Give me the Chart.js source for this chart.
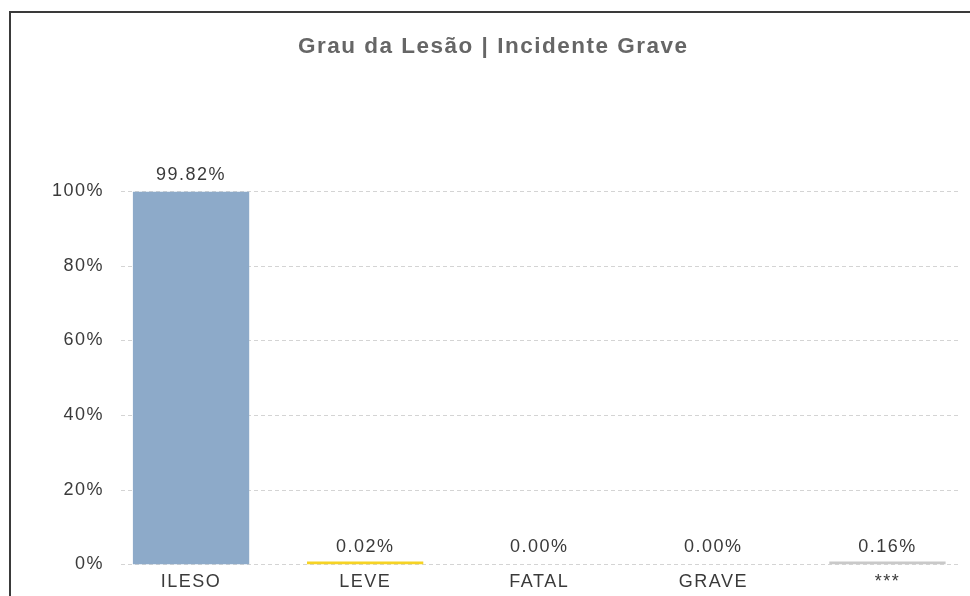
<!DOCTYPE html>
<html>
<head>
<meta charset="utf-8">
<script src="https://cdn.jsdelivr.net/npm/chart.js@4"></script>
<style>
    html, body { margin: 0; padding: 0; background: #fff; overflow: hidden; }
    #frame {
        position: absolute; left: 9px; top: 11px; width: 2000px; height: 2000px;
        border-top: 2px solid #3a3a3a; border-left: 2px solid #3a3a3a;
    }
    #wrap { position: absolute; left: 0; top: 0; width: 990px; height: 596px; }
</style>
</head>
<body>
<div id="frame"></div>
<div id="wrap"><canvas id="chart"></canvas></div>
<script>
const categories = ["ILESO", "LEVE", "FATAL", "GRAVE", "***"];
const values = [99.82, 0.02, 0.00, 0.00, 0.16];
const barColors = ["#8DAAC9", "#F6D324", "rgba(0,0,0,0)", "rgba(0,0,0,0)", "#C9C9C9"];
const yTicks = [0, 20, 40, 60, 80, 100];

const FONT = "'Liberation Sans', Arial, sans-serif";

// spacing between letters, the reference text is spread out
const spacingPlugin = {
    id: 'spacing',
    beforeUpdate(chart) { chart.ctx.letterSpacing = '1.5px'; },
    beforeDraw(chart) { chart.ctx.letterSpacing = '1.5px'; }
};

// dashed grid lines, shorter than the chart area
const gridPlugin = {
    id: 'dashGrid',
    beforeDatasetsDraw(chart) {
        const ctx = chart.ctx;
        const y = chart.scales.y;
        ctx.save();
        ctx.strokeStyle = '#d4d4d4';
        ctx.lineWidth = 1;
        ctx.setLineDash([4, 3]);
        yTicks.forEach(t => {
            const py = Math.round(y.getPixelForValue(t)) + 0.5;
            ctx.beginPath();
            ctx.moveTo(121, py);
            ctx.lineTo(960, py);
            ctx.stroke();
        });
        ctx.restore();
    }
};

// value labels over the bars
const labelPlugin = {
    id: 'valueLabels',
    afterDatasetsDraw(chart) {
        const ctx = chart.ctx;
        const meta = chart.getDatasetMeta(0);
        const y = chart.scales.y;
        ctx.save();
        ctx.font = '18px ' + FONT;
        ctx.fillStyle = '#3a3a3a';
        ctx.textAlign = 'center';
        ctx.textBaseline = 'middle';
        meta.data.forEach((bar, i) => {
            ctx.fillText(values[i].toFixed(2) + '%', bar.x, y.getPixelForValue(values[i]) - 17);
        });
        ctx.restore();
    }
};

new Chart(document.getElementById('chart').getContext('2d'), {
    type: 'bar',
    data: {
        labels: categories,
        datasets: [{
            data: values,
            backgroundColor: barColors,
            borderWidth: 0,
            minBarLength: 3,
            barPercentage: 0.668,
            categoryPercentage: 1
        }]
    },
    options: {
        responsive: true,
        maintainAspectRatio: false,
        animation: false,
        layout: { padding: { left: 12, right: 15.5, top: 0, bottom: -4 } },
        plugins: {
            legend: { display: false },
            tooltip: { enabled: false },
            title: {
                display: true,
                text: 'Grau da Lesão | Incidente Grave',
                color: '#666',
                font: { family: FONT, size: 22.5, weight: 'bold' },
                padding: { top: 33, bottom: 131 }
            }
        },
        scales: {
            x: {
                grid: { display: false, drawTicks: false },
                border: { display: false },
                ticks: { color: '#3a3a3a', padding: 7, font: { family: FONT, size: 18 } }
            },
            y: {
                min: 0,
                max: 100,
                grid: { display: false, drawTicks: false },
                border: { display: false },
                afterFit(scale) { scale.width = 92; },
                ticks: {
                    stepSize: 20,
                    padding: 0,
                    color: '#3a3a3a',
                    font: { family: FONT, size: 18 },
                    callback: v => v + '%'
                }
            }
        }
    },
    plugins: [spacingPlugin, gridPlugin, labelPlugin]
});
</script>
</body>
</html>
